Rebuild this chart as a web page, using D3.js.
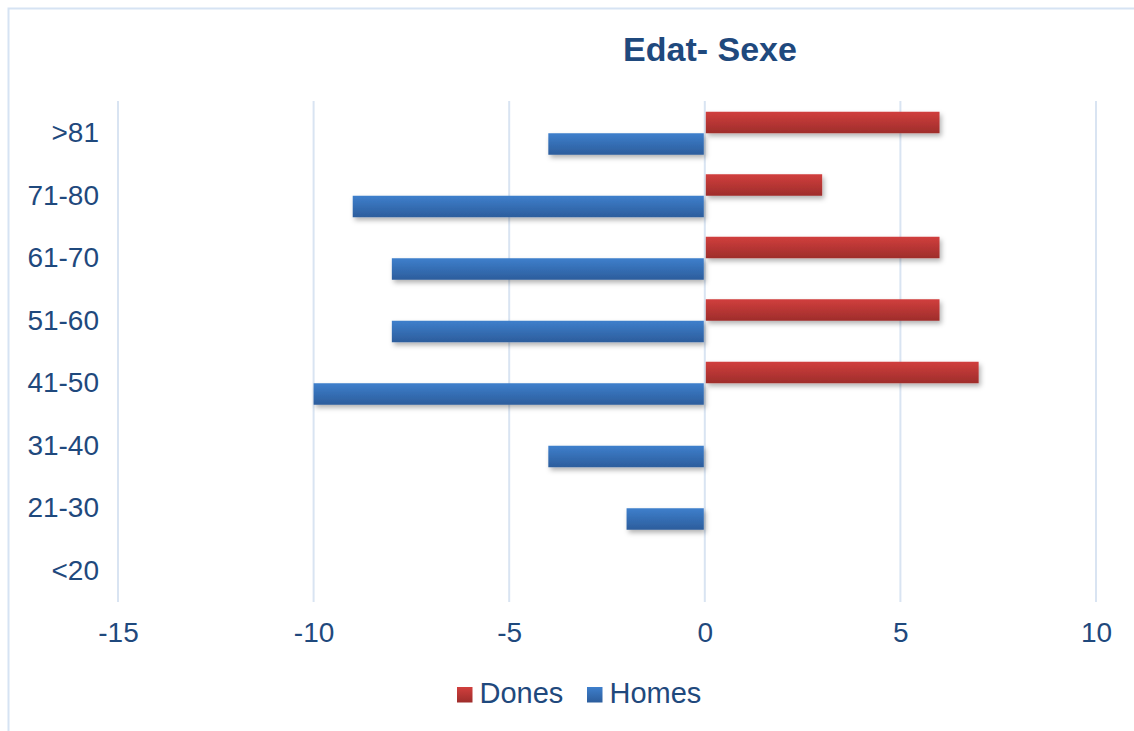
<!DOCTYPE html>
<html>
<head>
<meta charset="utf-8">
<script src="https://cdn.jsdelivr.net/npm/d3@7"></script>
<style>
  body { margin: 0; background: #fff; }
  text { font-family: "Liberation Sans", Arial, sans-serif; fill: #1f497d; }
</style>
</head>
<body>
<div id="chart"></div>
<script>
// Data (bottom to top in the picture)
const categories = ["<20", "21-30", "31-40", "41-50", "51-60", "61-70", "71-80", ">81"];
const dones = [0, 0, 0, 7, 6, 6, 3, 6];
const homes = [0, -2, -4, -10, -8, -8, -9, -4];
const xTicks = [-15, -10, -5, 0, 5, 10];
const seriesNames = ["Dones", "Homes"];

const W = 1134, H = 731;
let margin = { top: 102, right: 38, bottom: 129, left: 118 },
    width = W - margin.left - margin.right,
    height = H - margin.top - margin.bottom;

let svg = d3.select("#chart").append("svg")
    .attr("width", W)
    .attr("height", H);

// gradients + shadow
const defs = svg.append("defs");
function grad(id, top, bottom) {
	let g = defs.append("linearGradient").attr("id", id)
		.attr("x1", 0).attr("y1", 0).attr("x2", 0).attr("y2", 1);
	g.append("stop").attr("offset", "0%").attr("stop-color", top);
	g.append("stop").attr("offset", "100%").attr("stop-color", bottom);
}
grad("gRed", "#d13f3d", "#9e2d2b");
grad("gBlue", "#3e7fcc", "#2c5d9c");
const f = defs.append("filter").attr("id", "shadow")
	.attr("x", "-10%").attr("y", "-30%").attr("width", "130%").attr("height", "190%");
f.append("feDropShadow").attr("dx", 2).attr("dy", 3).attr("stdDeviation", 2.5)
	.attr("flood-color", "#000").attr("flood-opacity", 0.3);

// outer border
svg.append("rect")
	.attr("x", 8.5).attr("y", 8.5)
	.attr("width", W).attr("height", H)
	.attr("fill", "none")
	.attr("stroke", "#d6e3f3")
	.attr("stroke-width", 2);

const g = svg.append("g")
	.attr("transform", "translate(" + margin.left + "," + margin.top + ")");

// Scales
let x = d3.scaleLinear().domain([-15, 10]).range([0, width]);
let y = d3.scaleBand().domain(categories.slice().reverse()).range([0, height]);

// gridlines
g.selectAll(".grid")
	.data(xTicks)
	.join("line")
	.attr("class", "grid")
	.attr("x1", d => x(d)).attr("x2", d => x(d))
	.attr("y1", -1).attr("y2", height)
	.attr("stroke", "#d9e4f2")
	.attr("stroke-width", 2);

// x tick labels
let xAxis = d3.axisBottom(x).tickValues(xTicks)
	.tickFormat(d => String(d))
	.tickSize(0).tickPadding(20);
let xAxisEl = g.append("g")
	.attr("transform", "translate(0," + height + ")")
	.call(xAxis);
xAxisEl.select(".domain").remove();
xAxisEl.selectAll("text")
	.style("font-size", "28px")
	.attr("fill", "#1f497d");

// y category labels
let yAxis = d3.axisLeft(y).tickSize(0).tickPadding(19);
let yAxisEl = g.append("g").call(yAxis);
yAxisEl.select(".domain").remove();
yAxisEl.selectAll("text")
	.style("font-size", "28px")
	.attr("fill", "#1f497d");

// bars
const barH = 21.5;
const rows = categories.map((c, i) => ({ cat: c, d: dones[i], h: homes[i] }));

g.append("g").selectAll("rect")
	.data(rows.filter(r => r.d !== 0))
	.join("rect")
	.attr("x", d => x(0) + 1)
	.attr("y", d => y(d.cat) + y.bandwidth() / 2 - barH)
	.attr("width", d => x(d.d) - x(0) - 1)
	.attr("height", barH)
	.attr("fill", "url(#gRed)")
	.attr("filter", "url(#shadow)");

g.append("g").selectAll("rect")
	.data(rows.filter(r => r.h !== 0))
	.join("rect")
	.attr("x", d => x(d.h))
	.attr("y", d => y(d.cat) + y.bandwidth() / 2)
	.attr("width", d => x(0) - x(d.h) - 1)
	.attr("height", barH)
	.attr("fill", "url(#gBlue)")
	.attr("filter", "url(#shadow)");

// title
svg.append("text")
	.attr("x", 710).attr("y", 61)
	.attr("text-anchor", "middle")
	.style("font-size", "34px")
	.style("font-weight", "bold")
	.text("Edat- Sexe");

// legend
const legend = svg.append("g").attr("transform", "translate(457,682)");
const legX = [0, 130];
legend.selectAll("rect")
	.data(seriesNames)
	.join("rect")
	.attr("x", (d, i) => legX[i]).attr("y", 5)
	.attr("width", 15.5).attr("height", 15.5)
	.attr("fill", (d, i) => i === 0 ? "url(#gRed)" : "url(#gBlue)");
legend.selectAll("text")
	.data(seriesNames)
	.join("text")
	.attr("x", (d, i) => legX[i] + 22.5).attr("y", 21)
	.style("font-size", "29px")
	.text(d => d);
</script>
</body>
</html>
